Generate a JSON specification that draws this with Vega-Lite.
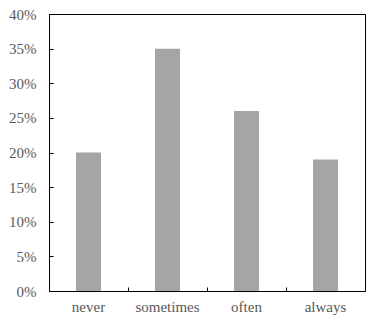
{
  "$schema": "https://vega.github.io/schema/vega-lite/v6.json",
  "width": 316,
  "height": 277,
  "autosize": {"type": "none"},
  "padding": {"left": 49, "top": 14, "right": 15, "bottom": 34},
  "data": {
    "values": [
      {"category": "never", "value": 0.20},
      {"category": "sometimes", "value": 0.35},
      {"category": "often", "value": 0.26},
      {"category": "always", "value": 0.19}
    ]
  },
  "config": {
    "view": {"stroke": "#000000", "strokeWidth": 1},
    "font": "Liberation Serif",
    "axis": {
      "grid": false,
      "domainColor": "#000000",
      "domainWidth": 1,
      "tickColor": "#000000",
      "tickWidth": 1,
      "labelFont": "Liberation Serif",
      "labelFontSize": 15,
      "labelColor": "#595959",
      "title": null
    }
  },
  "mark": {"type": "bar", "color": "#a5a5a5", "width": {"band": 0.316}},
  "encoding": {
    "x": {
      "field": "category",
      "type": "nominal",
      "sort": ["never", "sometimes", "often", "always"],
      "scale": {"paddingInner": 0, "paddingOuter": 0},
      "axis": {
        "labelAngle": 0,
        "bandPosition": 0,
        "tickSize": -4,
        "labelPadding": 12,
        "title": null
      }
    },
    "y": {
      "field": "value",
      "type": "quantitative",
      "scale": {"domain": [0, 0.4], "nice": false},
      "axis": {
        "values": [0, 0.05, 0.1, 0.15, 0.2, 0.25, 0.3, 0.35, 0.4],
        "format": ".0%",
        "tickSize": -4,
        "labelPadding": 17,
        "title": null
      }
    }
  }
}
